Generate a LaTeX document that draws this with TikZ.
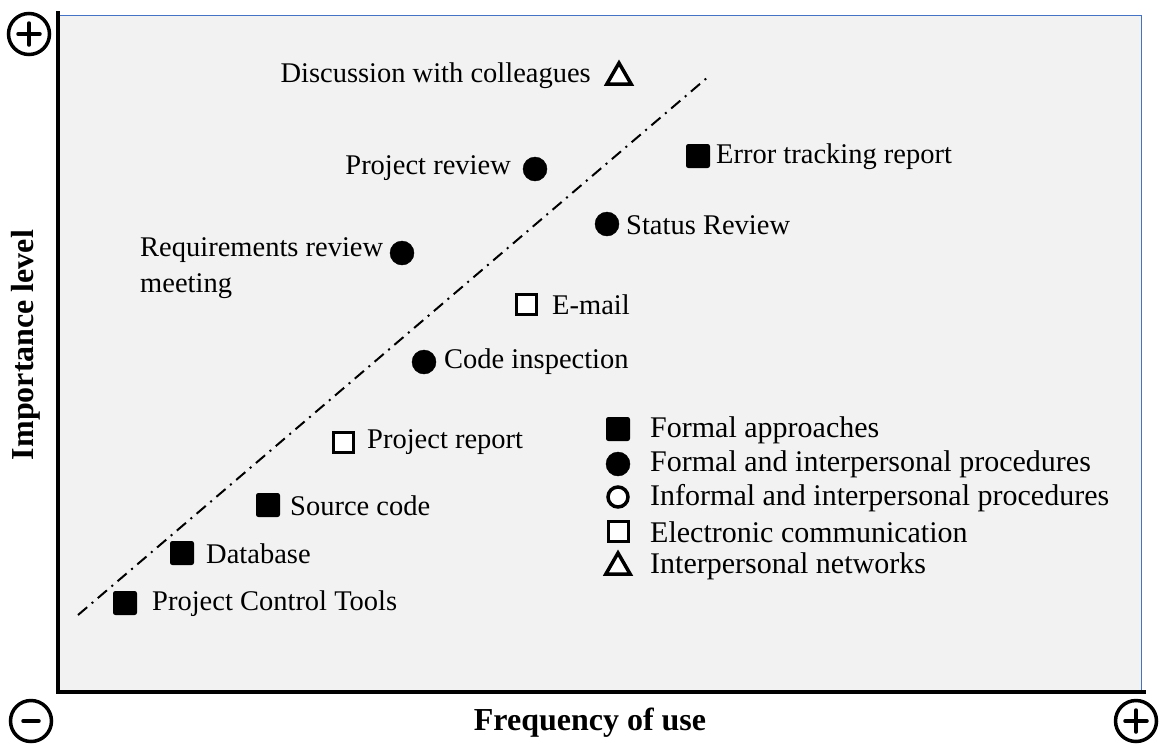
\documentclass[tikz,border=0pt]{standalone}
\usepackage{fontspec}
\setmainfont{Liberation Serif}
\usetikzlibrary{shapes.geometric}
\definecolor{plotbg}{HTML}{F2F2F2}
\definecolor{plotedge}{HTML}{4472C4}
\tikzset{
  lbl/.style={font=\fontsize{28.5}{34}\selectfont, inner sep=0pt},
  leg/.style={font=\fontsize{30}{34}\selectfont, inner sep=0pt},
  axlbl/.style={font=\fontsize{32}{36}\selectfont\bfseries, inner sep=0pt},
  fsq/.style={draw=black, fill=black, line width=1pt, rounded corners=2pt, minimum size=23pt, inner sep=0pt},
  osq/.style={draw=black, fill=white, line width=3pt, minimum size=20pt, inner sep=0pt},
  fcirc/.style={circle, draw=black, fill=black, minimum size=24pt, inner sep=0pt},
  ocirc/.style={circle, draw=black, fill=white, line width=3.5pt, minimum size=20pt, inner sep=0pt},
  otri/.style={regular polygon, regular polygon sides=3, draw=black, fill=white, line width=3.5pt, minimum size=28pt, inner sep=0pt},
  pm/.style={circle, draw=black, line width=3.5pt, minimum size=41pt, inner sep=0pt},
  pmbar/.style={line width=3.5pt, line cap=round},
}
\begin{document}
\begin{tikzpicture}[x=1pt,y=-1pt]
\useasboundingbox (0,0) rectangle (1161,745);
% plot area
\draw[plotedge, fill=plotbg, line width=1pt] (58,15) rectangle (1141,690);
\draw[black, line width=3.5pt] (58,11) -- (58,692) -- (1146,692);
% corner signs
\node[pm] (ptl) at (29,34) {};
\draw[pmbar] ([xshift=-11pt]ptl.center) -- ([xshift=11pt]ptl.center);
\draw[pmbar] ([yshift=-11pt]ptl.center) -- ([yshift=11pt]ptl.center);
\node[pm] (mbl) at (31,721) {};
\draw[pmbar] ([xshift=-8pt]mbl.center) -- ([xshift=8pt]mbl.center);
\node[pm] (pbr) at (1136,721) {};
\draw[pmbar] ([xshift=-11pt]pbr.center) -- ([xshift=11pt]pbr.center);
\draw[pmbar] ([yshift=-11pt]pbr.center) -- ([yshift=11pt]pbr.center);
% axis labels
\node[axlbl] (ylab) at (26,345) [rotate=90] {Importance level};
\node[axlbl] (xlab) at (590,723) {Frequency of use};
% trend line
\coordinate (t1) at (78,615);
\coordinate (t2) at (708,77);
\draw[line width=2pt, dash pattern=on 12pt off 6pt on 2pt off 6pt] (t1) -- (t2);
% data points
\node[otri] (m1) at (619,77) {};
\node[lbl, anchor=east] (l1) at (591,76) {Discussion with colleagues};
\node[fcirc] (m2) at (535,169) {};
\node[lbl, anchor=east] (l2) at (511,168) {Project review};
\node[fsq] (m3) at (698,156) {};
\node[lbl, anchor=west] (l3) at (716,157) {Error tracking report};
\node[fcirc] (m4) at (607,224) {};
\node[lbl, anchor=west] (l4) at (626,225) {Status Review};
\node[fcirc] (m5) at (402,253) {};
\node[lbl, anchor=north west, align=left, font=\fontsize{28.5}{36}\selectfont] (l5) at (140,237) {Requirements review\\meeting};
\node[osq] (m6) at (526,304) {};
\node[lbl, anchor=west] (l6) at (552,305) {E-mail};
\node[fcirc] (m7) at (424,362) {};
\node[lbl, anchor=west] (l7) at (444,362) {Code inspection};
\node[osq] (m8) at (343,442) {};
\node[lbl, anchor=west] (l8) at (367,442) {Project report};
\node[fsq] (m9) at (268,505) {};
\node[lbl, anchor=west] (l9) at (290,506) {Source code};
\node[fsq] (m10) at (182,553) {};
\node[lbl, anchor=west] (l10) at (206,554) {Database};
\node[fsq] (m11) at (125,603) {};
\node[lbl, anchor=west] (l11) at (152,604) {Project Control Tools};
% legend
\node[fsq] (g1) at (618,429) {};
\node[leg, anchor=west] (gl1) at (650,430) {Formal approaches};
\node[fcirc] (g2) at (618,464) {};
\node[leg, anchor=west] (gl2) at (650,464) {Formal and interpersonal procedures};
\node[ocirc] (g3) at (618,497) {};
\node[leg, anchor=west] (gl3) at (650,498) {Informal and interpersonal procedures};
\node[osq] (g4) at (618,531) {};
\node[leg, anchor=west] (gl4) at (650,532) {Electronic communication};
\node[otri] (g5) at (618,567) {};
\node[leg, anchor=west] (gl5) at (650,566) {Interpersonal networks};
\end{tikzpicture}
\end{document}
